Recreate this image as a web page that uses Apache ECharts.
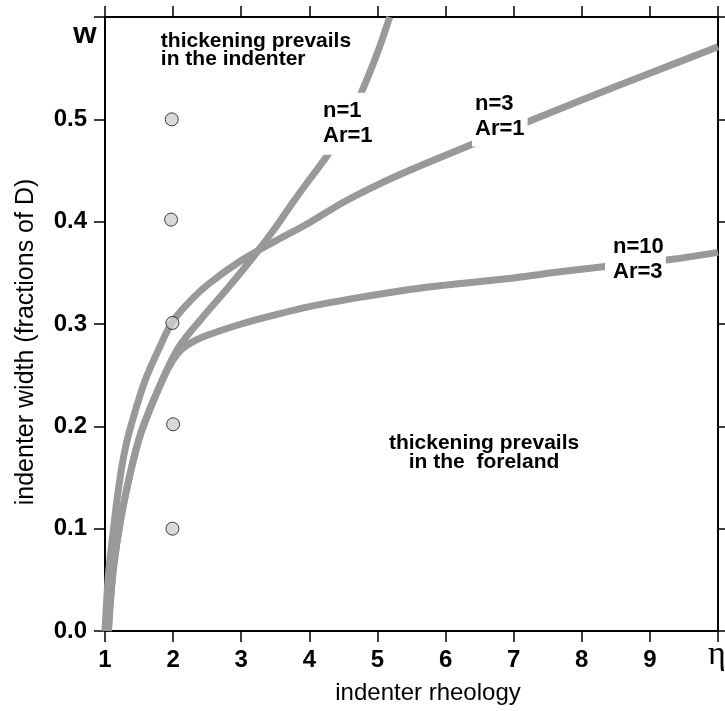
<!DOCTYPE html>
<html>
<head>
<meta charset="utf-8">
<script src="https://cdn.jsdelivr.net/npm/echarts@6/dist/echarts.min.js"></script>
<style>
  html, body { margin: 0; padding: 0; background: #fff; }
  #chart { width: 725px; height: 711px; }
</style>
</head>
<body>
<div id="chart"></div>
<script>
// curve n=1, Ar=1
var n1X = [1.05, 1.08, 1.13, 1.22, 1.35, 1.53, 1.84, 2.07, 2.4, 2.8, 3.17, 3.5, 3.76, 4.0, 4.3, 4.55, 4.77, 5.0, 5.18];
var n1Y = [0, 0.03, 0.065, 0.105, 0.148, 0.194, 0.245, 0.276, 0.304, 0.335, 0.365, 0.394, 0.419, 0.441, 0.468, 0.495, 0.527, 0.565, 0.600];
// curve n=3, Ar=1
var n3X = [1.0, 1.025, 1.05, 1.09, 1.13, 1.2, 1.29, 1.4, 1.59, 1.8, 1.98, 2.2, 2.5, 3.0, 3.5, 4.0, 4.5, 5.0, 5.5, 6.0, 7.0, 8.0, 9.0, 10.0];
var n3Y = [0, 0.03, 0.055, 0.08, 0.103, 0.14, 0.176, 0.205, 0.245, 0.277, 0.301, 0.319, 0.338, 0.362, 0.381, 0.399, 0.419, 0.436, 0.451, 0.465, 0.492, 0.519, 0.545, 0.571];
// curve n=10, Ar=3
var n10X = [1.05, 1.08, 1.13, 1.22, 1.35, 1.53, 1.84, 2.0, 2.12, 2.3, 2.5, 3.0, 3.5, 4.0, 4.74, 5.5, 6.0, 7.0, 7.68, 8.31, 9.3, 10.0];
var n10Y = [0, 0.03, 0.065, 0.105, 0.148, 0.194, 0.245, 0.265, 0.275, 0.283, 0.289, 0.3, 0.309, 0.317, 0.326, 0.334, 0.338, 0.345, 0.351, 0.356, 0.363, 0.37];
// experiment points
var ptX = [1.98, 1.97, 1.99, 2.0, 1.99];
var ptY = [0.5, 0.402, 0.301, 0.202, 0.1];

var font = '"Liberation Sans", Arial, sans-serif';

function pairs(xs, ys) {
    return xs.map(function (x, i) { return [x, ys[i]]; });
}

var lineStyle = { color: '#999999', width: 7, cap: 'butt', join: 'round' };

function curve(name, xs, ys) {
    return {
        name: name,
        type: 'line',
        data: pairs(xs, ys),
        showSymbol: false,
        smooth: 0.35,
        lineStyle: lineStyle,
        z: 2,
        silent: true
    };
}

// text notes placed in data space
var notes = [
    { at: [1.82, 0.585], text: 'thickening prevails\nin the indenter', size: 21, lh: 18, align: 'left', pad: [0, 0, 0, 0], bg: null },
    { at: [4.157, 0.526], text: 'n=1\nAr=1', size: 22, lh: 25, align: 'left', pad: [6, 3, 6, 3], bg: '#fff' },
    { at: [6.389, 0.532], text: 'n=3\nAr=1', size: 22, lh: 25, align: 'left', pad: [5, 3, 5, 3], bg: '#fff' },
    { at: [8.342, 0.391], text: 'n=10\nAr=3', size: 22, lh: 25, align: 'left', pad: [4, 2, 4, 8], bg: '#fff' },
    { at: [6.565, 0.1926], text: 'thickening prevails\nin the  foreland', size: 21, lh: 19, align: 'center', pad: [0, 0, 0, 0], bg: null }
];

var chart = echarts.init(document.getElementById('chart'));

var axisCommon = {
    axisLine: { show: true, onZero: false, lineStyle: { color: '#000', width: 2 } },
    axisTick: { show: true, inside: false, length: 11, lineStyle: { color: '#000', width: 1.5 } },
    splitLine: { show: false }
};

var option = {
    animation: false,
    backgroundColor: '#fff',
    grid: { left: 105, right: 7, top: 17, bottom: 80, containLabel: false },
    xAxis: [
        Object.assign({
            type: 'value', min: 1, max: 10, interval: 1, position: 'bottom',
            axisLabel: {
                margin: 17, color: '#000', fontFamily: font, fontWeight: 'bold', fontSize: 24,
                formatter: function (v) { return v >= 10 ? '' : String(v); }
            }
        }, axisCommon),
        Object.assign({
            type: 'value', min: 1, max: 10, interval: 1, position: 'top',
            axisLabel: { show: false }
        }, axisCommon)
    ],
    yAxis: [
        Object.assign({
            type: 'value', min: 0, max: 0.6, interval: 0.1, position: 'left',
            axisLabel: {
                margin: 18, color: '#000', fontFamily: font, fontWeight: 'bold', fontSize: 24,
                formatter: function (v) { return v > 0.55 ? '' : v.toFixed(1); }
            }
        }, axisCommon),
        Object.assign({
            type: 'value', min: 0, max: 0.6, interval: 0.1, position: 'right',
            axisLabel: { show: false }
        }, axisCommon)
    ],
    series: [
        curve('n=1 Ar=1', n1X, n1Y),
        curve('n=3 Ar=1', n3X, n3Y),
        curve('n=10 Ar=3', n10X, n10Y),
        {
            name: 'points',
            type: 'scatter',
            data: pairs(ptX, ptY),
            symbol: 'circle',
            symbolSize: 13,
            itemStyle: { color: '#d0d0d0', borderColor: '#111', borderWidth: 1 },
            z: 5
        }
    ]
};

chart.setOption(option);

// fixed titles plus notes converted from data space
var graphics = [
    { type: 'text', x: 85, y: 35, z: 100, style: { text: 'w', font: 'bold 30px ' + font, fill: '#000', align: 'center', verticalAlign: 'middle' } },
    { type: 'text', x: 26.5, y: 342, z: 100, rotation: Math.PI / 2, style: { text: 'indenter width (fractions of D)', font: '25px ' + font, fill: '#000', align: 'center', verticalAlign: 'middle' } },
    { type: 'text', x: 428, y: 693, z: 100, style: { text: 'indenter rheology', font: '24px ' + font, fill: '#000', align: 'center', verticalAlign: 'middle' } },
    { type: 'text', x: 717, y: 655, z: 100, style: { text: 'η', font: '34px "Liberation Serif", "DejaVu Serif", serif', fill: '#000', align: 'center', verticalAlign: 'middle' } }
];
notes.forEach(function (n) {
    var p = chart.convertToPixel({ xAxisIndex: 0, yAxisIndex: 0 }, n.at);
    var style = {
        text: n.text,
        font: 'bold ' + n.size + 'px ' + font,
        fill: '#000',
        lineHeight: n.lh,
        align: n.align,
        verticalAlign: 'top',
        padding: n.pad
    };
    if (n.bg) style.backgroundColor = n.bg;
    graphics.push({ type: 'text', x: p[0], y: p[1], z: 100, style: style });
});
chart.setOption({ graphic: graphics });
</script>
</body>
</html>
